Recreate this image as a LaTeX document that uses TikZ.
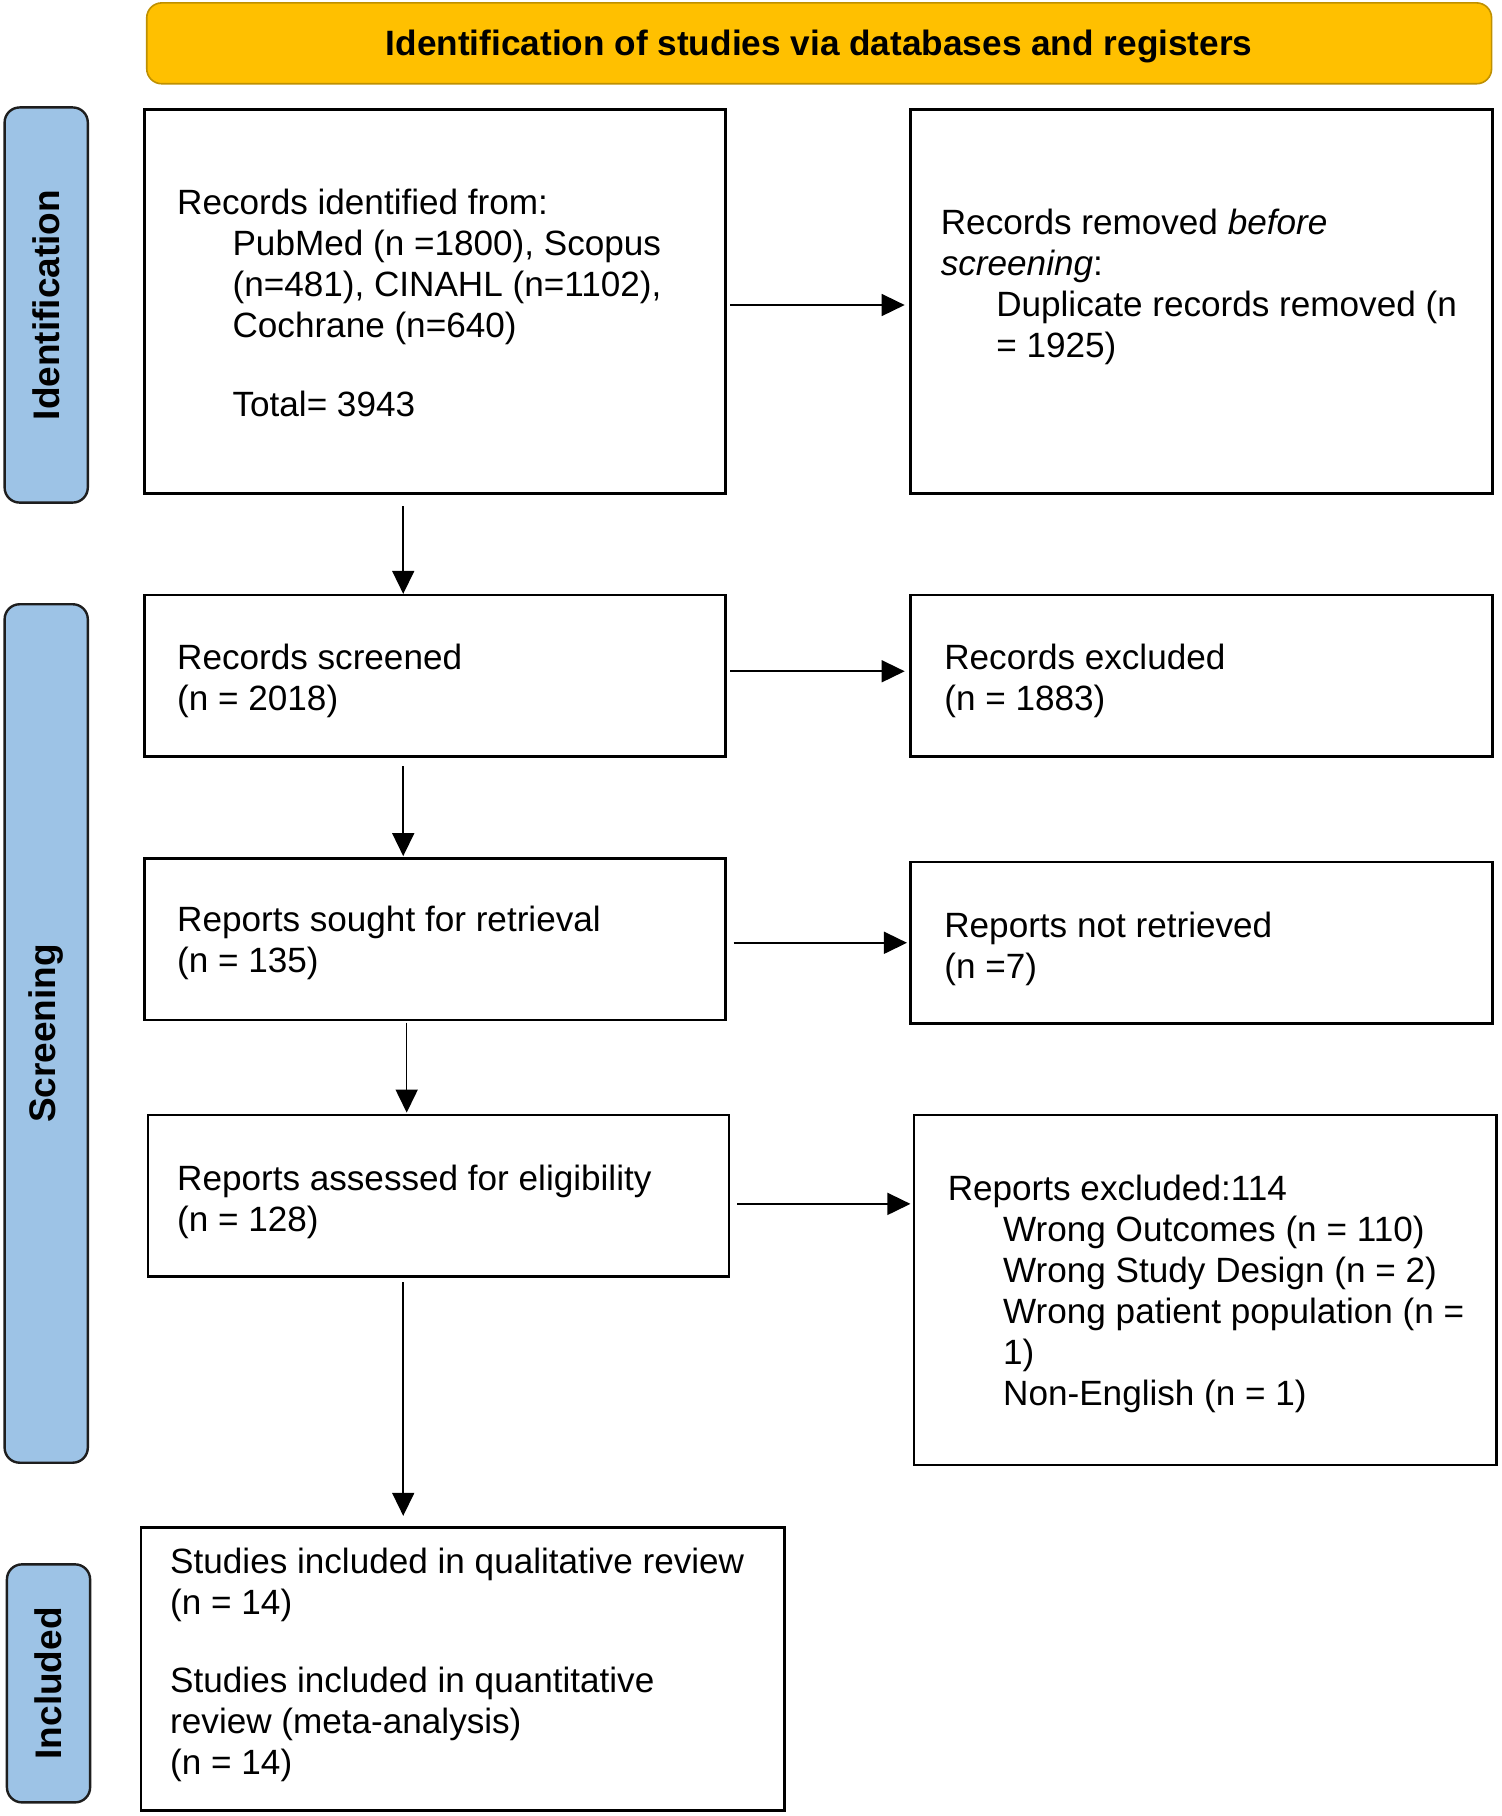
\documentclass[tikz,border=0pt]{standalone}
\usepackage{fontspec}
\setmainfont{Liberation Sans}
\usetikzlibrary{arrows.meta,calc}
\definecolor{hdrfill}{HTML}{FFC000}
\definecolor{hdrdraw}{HTML}{BF9000}
\definecolor{barfill}{HTML}{9DC3E6}
\definecolor{bardraw}{HTML}{1E1E1E}
\newcommand{\ind}{\hspace*{27.7pt}}
\def\u{0.5777pt}
\begin{document}
\begin{tikzpicture}[x=0.5777pt,y=-0.5777pt,
  box/.style={draw=black, line width=1.3pt, fill=white, rectangle, inner sep=0pt, outer sep=0pt},
  txt/.style={anchor=west, align=left, inner sep=0pt, font=\fontsize{17.56pt}{20.5pt}\selectfont},
  bar/.style={draw=bardraw, fill=barfill, line width=1.2pt, rounded corners=7.5pt, inner sep=0pt, outer sep=0pt,
    rotate=90, minimum height=72*\u, font=\fontsize{18.5pt}{22pt}\selectfont\bfseries},
  hdr/.style={draw=hdrdraw, fill=hdrfill, line width=0.8pt, rounded corners=7.5pt, inner sep=0pt, outer sep=0pt,
    text height=15pt, text depth=2.4pt, font=\fontsize{17.6pt}{21pt}\selectfont\bfseries},
  arr/.style={-{Triangle[length=11.5pt,width=11pt]}, line width=0.8pt}
]
\useasboundingbox (0,0) rectangle (1300,1571.8);

% header
\node[hdr, minimum width=1164*\u, minimum height=70*\u] (hdr) at (709,37.5) {Identification of studies via databases and registers};

% side bars
\node[bar, minimum width=342*\u] (bar1) at (40,264) {Identification};
\node[bar, minimum width=743*\u] (bar2) at (40,894.5) {Screening};
\node[bar, minimum width=206*\u] (bar3) at (42,1457) {Included};

% boxes
\node[box, minimum width=503*\u, minimum height=332*\u] (b1) at (376.5,261) {};
\node[box, minimum width=504*\u, minimum height=332*\u] (b2) at (1040,261) {};
\node[box, minimum width=503*\u, minimum height=140*\u] (b3) at (376.5,585) {};
\node[box, minimum width=504*\u, minimum height=140*\u] (b4) at (1040,585) {};
\node[box, minimum width=503*\u, minimum height=140*\u] (b5) at (376.5,813) {};
\node[box, minimum width=504*\u, minimum height=140*\u] (b6) at (1040,816) {};
\node[box, minimum width=503*\u, minimum height=140*\u] (b7) at (379.5,1035) {};
\node[box, minimum width=504*\u, minimum height=303*\u] (b8) at (1043,1116.5) {};
\node[box, minimum width=557*\u, minimum height=245*\u] (b9) at (400.5,1444.5) {};

% texts
\node[txt] (t1) at (153,265.8) {\strut Records identified from:\\
\ind PubMed (n =1800), Scopus\\
\ind (n=481), CINAHL (n=1102),\\
\ind Cochrane (n=640)\\[18.8pt]
\ind Total= 3943\strut};
\node[txt] (t2) at (814,248.8) {\strut Records removed \textit{before}\\
\textit{screening}:\\
\ind Duplicate records removed (n\\
\ind = 1925)\strut};
\node[txt] (t3) at (153,589.8) {\strut Records screened\\(n = 2018)\strut};
\node[txt] (t4) at (817,589.8) {\strut Records excluded\\(n = 1883)\strut};
\node[txt] (t5) at (153,816.8) {\strut Reports sought for retrieval\\(n = 135)\strut};
\node[txt] (t6) at (817,821.8) {\strut Reports not retrieved\\(n =7)\strut};
\node[txt] (t7) at (153,1040.8) {\strut Reports assessed for eligibility\\(n = 128)\strut};
\node[txt] (t8) at (820,1120.8) {\strut Reports excluded:114\\
\ind Wrong Outcomes (n = 110)\\
\ind Wrong Study Design (n = 2)\\
\ind Wrong patient population (n =\\
\ind 1)\\
\ind Non-English (n = 1)\strut};
\node[txt] (t9) at (147,1441.8) {\strut Studies included in qualitative review\\
(n = 14)\\[18.8pt]
Studies included in quantitative\\
review (meta-analysis)\\
(n = 14)\strut};

% horizontal arrows
\draw[arr] ($(b1.east)+(4,3)$) -- ($(b2.west)+(-5,3)$);
\draw[arr] ($(b3.east)+(4,-4)$) -- ($(b4.west)+(-5,-4)$);
\draw[arr] ($(b5.east)+(7,3)$) -- ($(b6.west)+(-3,0)$);
\draw[arr] ($(b7.east)+(7,7)$) -- ($(b8.west)+(-3,-74.5)$);

% vertical arrows
\draw[arr] ($(b1.south west)+(224,11)$) -- ($(b3.north west)+(224,-1)$);
\draw[arr] ($(b3.south west)+(224,8)$) -- ($(b5.north west)+(224,-2)$);
\draw[arr] ($(b5.south west)+(227,2)$) -- ($(b7.north west)+(224,-2)$);
\draw[arr] ($(b7.south west)+(221,5)$) -- ($(b9.north west)+(227,-10)$);
\end{tikzpicture}
\end{document}
